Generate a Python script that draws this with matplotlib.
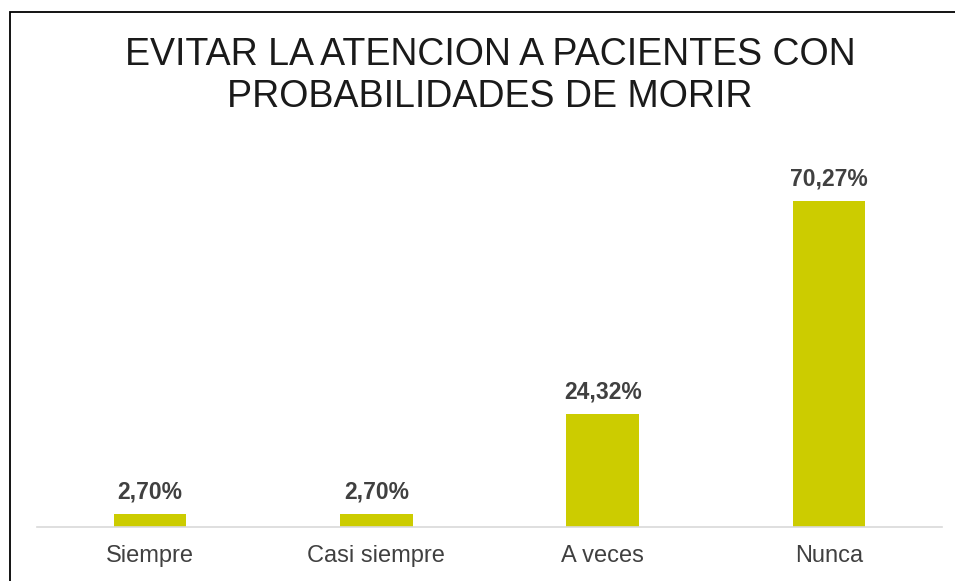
import matplotlib
matplotlib.use("Agg")
import matplotlib.pyplot as plt
from matplotlib.patches import Rectangle

categories = ["Siempre", "Casi siempre", "A veces", "Nunca"]
values = [2.70, 2.70, 24.32, 70.27]
labels = ["2,70%", "2,70%", "24,32%", "70,27%"]
title_lines = ["EVITAR LA ATENCION A PACIENTES CON", "PROBABILIDADES DE MORIR"]

W, H = 955, 581
fig = plt.figure(figsize=(W / 100, H / 100), dpi=100)
fig.patch.set_facecolor("white")

# outer border (left and top visible)
fig.patches.append(Rectangle((10 / W, -0.1), 1.2, (H - 12) / H + 0.1,
                             transform=fig.transFigure, fill=False,
                             edgecolor="black", linewidth=1.3))

ax = fig.add_axes([37 / W, (H - 527) / H, (942 - 37) / W, (527 - 156) / H])
x = range(len(categories))
ax.bar(x, values, width=0.32, color="#CCCC00")
ax.set_xlim(-0.5, len(categories) - 0.5)
ax.set_ylim(0, 80)
for s in ["top", "right", "left"]:
    ax.spines[s].set_visible(False)
ax.spines["bottom"].set_color("#D9D9D9")
ax.spines["bottom"].set_linewidth(1.2)
ax.set_yticks([])
ax.set_xticks(list(x))
ax.set_xticklabels(categories, fontsize=17, color="#404040", family="Liberation Sans")
ax.tick_params(axis="x", length=0, pad=13)
ax.set_facecolor("none")

for xi, v, lab in zip(x, values, labels):
    ax.annotate(lab, (xi, v), xytext=(0, 8), textcoords="offset points",
                ha="center", va="bottom", fontsize=16.5, fontweight="bold",
                color="#404040", family="Liberation Sans")

fig.text(490 / W, 1 - 55 / H, title_lines[0], ha="center", va="center",
         fontsize=27, color="#1a1a1a", family="Liberation Sans")
fig.text(490 / W, 1 - 97 / H, title_lines[1], ha="center", va="center",
         fontsize=27, color="#1a1a1a", family="Liberation Sans")

fig.savefig("out.png", dpi=100)
